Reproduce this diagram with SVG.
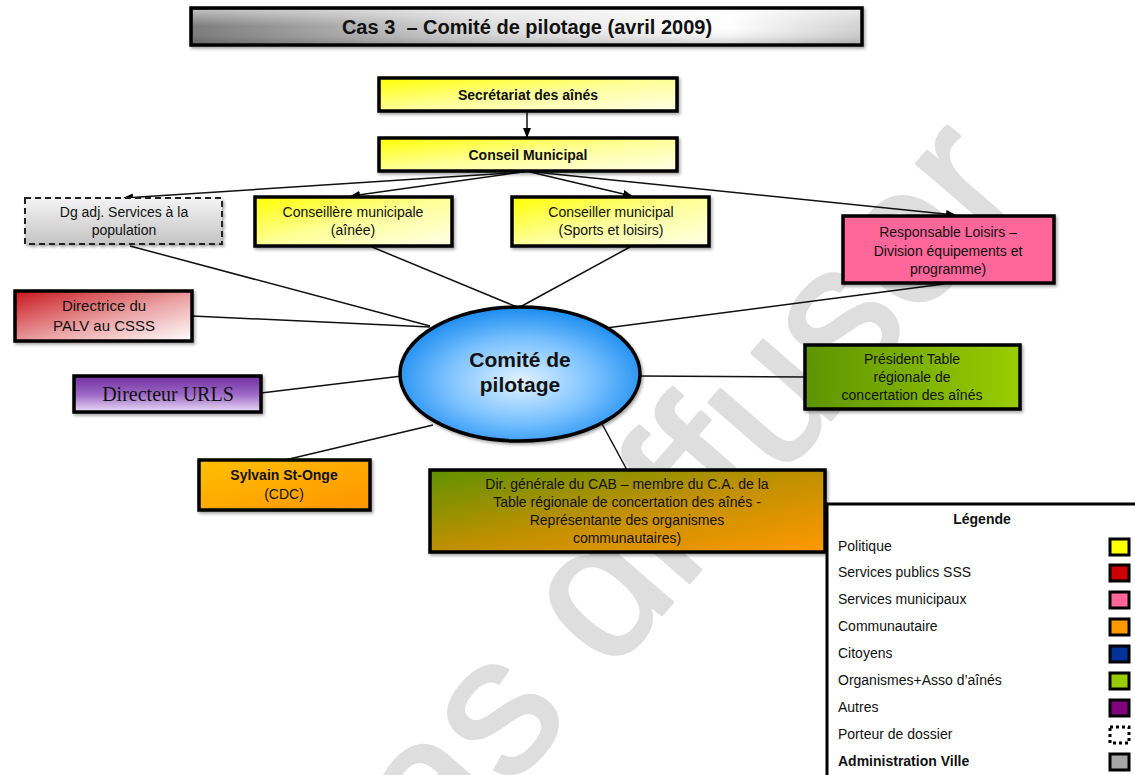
<svg xmlns="http://www.w3.org/2000/svg" width="1135" height="775" viewBox="0 0 1135 775">
<defs>
<linearGradient id="gTitle" x1="0" y1="0" x2="1" y2="0">
<stop offset="0" stop-color="#7a7a7a"/><stop offset="0.45" stop-color="#dcdcdc"/><stop offset="0.8" stop-color="#ffffff"/><stop offset="1" stop-color="#d0d0d0"/>
</linearGradient>
<linearGradient id="gTitleV" x1="0" y1="0" x2="0" y2="1">
<stop offset="0" stop-color="#ffffff" stop-opacity="0.5"/><stop offset="0.5" stop-color="#ffffff" stop-opacity="0"/><stop offset="1" stop-color="#000000" stop-opacity="0.15"/>
</linearGradient>
<linearGradient id="gYellow" x1="0" y1="0" x2="1" y2="1">
<stop offset="0" stop-color="#ffff00"/><stop offset="0.5" stop-color="#ffff99"/><stop offset="1" stop-color="#ffffe8"/>
</linearGradient>
<linearGradient id="gGray" x1="0" y1="0" x2="0" y2="1">
<stop offset="0" stop-color="#f4f4f4"/><stop offset="1" stop-color="#c4c4c4"/>
</linearGradient>
<linearGradient id="gRed" x1="0" y1="0" x2="1" y2="1">
<stop offset="0" stop-color="#c8161d"/><stop offset="0.55" stop-color="#eba3a5"/><stop offset="1" stop-color="#ffffff"/>
</linearGradient>
<linearGradient id="gPurple" x1="0" y1="0" x2="0" y2="1">
<stop offset="0" stop-color="#7030a0"/><stop offset="0.5" stop-color="#9b66c4"/><stop offset="1" stop-color="#eadcf5"/>
</linearGradient>
<linearGradient id="gOrange" x1="0" y1="0" x2="1" y2="1">
<stop offset="0" stop-color="#ffc000"/><stop offset="1" stop-color="#ff9400"/>
</linearGradient>
<linearGradient id="gGreen" x1="0" y1="0" x2="1" y2="0">
<stop offset="0" stop-color="#5e9400"/><stop offset="1" stop-color="#9acd00"/>
</linearGradient>
<linearGradient id="gGreenOrange" x1="0" y1="0" x2="1" y2="1">
<stop offset="0" stop-color="#5f9200"/><stop offset="0.5" stop-color="#c09000"/><stop offset="1" stop-color="#ff9900"/>
</linearGradient>
<radialGradient id="gBlue" cx="0.5" cy="0.55" r="0.55">
<stop offset="0" stop-color="#e2f2ff"/><stop offset="0.55" stop-color="#7cc2ff"/><stop offset="1" stop-color="#1a8cf0"/>
</radialGradient>
<marker id="arr" markerWidth="10" markerHeight="8" refX="9" refY="4" orient="auto" markerUnits="userSpaceOnUse">
<path d="M0,0 L10,4 L0,8 z" fill="#000"/>
</marker>
<filter id="sh" x="-10%" y="-10%" width="120%" height="130%">
<feDropShadow dx="1.5" dy="2" stdDeviation="1.5" flood-color="#000" flood-opacity="0.35"/>
</filter>
</defs>
<style>
.box{stroke:#000;stroke-width:3.5}
.t{font-family:"Liberation Sans",Arial,sans-serif;font-size:14px;fill:#111;text-anchor:middle}
.b{font-weight:bold}
.lg{font-family:"Liberation Sans",Arial,sans-serif;font-size:14px;fill:#111}
.sw{stroke:#000;stroke-width:3}
.ln{stroke:#111;stroke-width:1.5;fill:none}
</style>
<rect width="1135" height="775" fill="#fff"/>
<text x="438" y="872" transform="rotate(-49 438 872)" font-family="'Liberation Sans',Arial,sans-serif" font-size="196" fill="#dedede" stroke="#dedede" stroke-width="3" stroke-linejoin="round">as diffuser</text>

<g id="connectors">
<line class="ln" x1="527" y1="111" x2="527" y2="137" marker-end="url(#arr)"/>
<line class="ln" x1="524" y1="172" x2="124" y2="198" marker-end="url(#arr)"/>
<line class="ln" x1="522" y1="172" x2="351" y2="196" marker-end="url(#arr)"/>
<line class="ln" x1="530" y1="172" x2="632" y2="196" marker-end="url(#arr)"/>
<line class="ln" x1="534" y1="172" x2="955" y2="215" marker-end="url(#arr)"/>
<line class="ln" x1="130" y1="246" x2="430" y2="326"/>
<line class="ln" x1="372" y1="247" x2="517" y2="307"/>
<line class="ln" x1="630" y1="247" x2="520" y2="307"/>
<line class="ln" x1="944" y1="284" x2="606" y2="328"/>
<line class="ln" x1="192" y1="316" x2="430" y2="327"/>
<line class="ln" x1="261" y1="393" x2="402" y2="376"/>
<line class="ln" x1="285" y1="460" x2="433" y2="425"/>
<line class="ln" x1="640" y1="376" x2="805" y2="377"/>
<line class="ln" x1="601" y1="422" x2="627" y2="470"/>
</g>

<g id="title">
<rect x="191" y="8" width="671" height="37" fill="url(#gTitle)" class="box" filter="url(#sh)"/>
<rect x="193" y="10" width="667" height="33" fill="url(#gTitleV)"/>
<text x="527" y="34" class="t b" style="font-size:20px" xml:space="preserve">Cas 3  – Comité de pilotage (avril 2009)</text>
</g>

<g id="secretariat">
<rect x="379" y="78" width="298" height="33" fill="url(#gYellow)" class="box" filter="url(#sh)"/>
<text x="528" y="100" class="t b">Secrétariat des aînés</text>
</g>
<g id="conseil">
<rect x="379" y="138" width="298" height="33" fill="url(#gYellow)" class="box" filter="url(#sh)"/>
<text x="528" y="160" class="t b">Conseil Municipal</text>
</g>
<g id="dgadj">
<rect x="25" y="198" width="197" height="46" fill="url(#gGray)" stroke="#222" stroke-width="2" stroke-dasharray="6,4" filter="url(#sh)"/>
<text x="124" y="217" class="t">Dg adj. Services à la</text>
<text x="124" y="235" class="t">population</text>
</g>
<g id="conseillere">
<rect x="255" y="197" width="197" height="49" fill="url(#gYellow)" class="box" filter="url(#sh)"/>
<text x="353" y="217" class="t">Conseillère municipale</text>
<text x="353" y="235" class="t">(aînée)</text>
</g>
<g id="conseiller">
<rect x="512" y="197" width="197" height="49" fill="url(#gYellow)" class="box" filter="url(#sh)"/>
<text x="611" y="217" class="t">Conseiller municipal</text>
<text x="611" y="235" class="t">(Sports et loisirs)</text>
</g>
<g id="responsable">
<rect x="843" y="216" width="211" height="67" fill="#ff6699" class="box" filter="url(#sh)"/>
<text x="948" y="237" class="t">Responsable Loisirs –</text>
<text x="948" y="256" class="t">Division équipements et</text>
<text x="948" y="274" class="t">programme)</text>
</g>
<g id="directrice">
<rect x="15" y="291" width="177" height="50" fill="url(#gRed)" class="box" filter="url(#sh)"/>
<text x="104" y="311" class="t" style="font-size:15px">Directrice du</text>
<text x="104" y="331" class="t" style="font-size:15px">PALV au CSSS</text>
</g>
<g id="urls">
<rect x="74" y="376" width="187" height="36" fill="url(#gPurple)" class="box" filter="url(#sh)"/>
<text x="168" y="401" class="t" style="font-family:'Liberation Serif','Times New Roman',serif;font-size:20px">Directeur URLS</text>
</g>
<g id="sylvain">
<rect x="199" y="460" width="171" height="50" fill="url(#gOrange)" class="box" filter="url(#sh)"/>
<text x="284" y="480" class="t b">Sylvain St-Onge</text>
<text x="284" y="499" class="t">(CDC)</text>
</g>
<g id="comite">
<ellipse cx="520" cy="374" rx="120" ry="67" fill="url(#gBlue)" stroke="#000" stroke-width="3.5" filter="url(#sh)"/>
<text x="520" y="367" class="t b" style="font-size:21px">Comité de</text>
<text x="520" y="392" class="t b" style="font-size:21px">pilotage</text>
</g>
<g id="president">
<rect x="805" y="345" width="215" height="64" fill="url(#gGreen)" class="box" filter="url(#sh)"/>
<text x="912" y="364" class="t">Président Table</text>
<text x="912" y="382" class="t">régionale de</text>
<text x="912" y="400" class="t">concertation des aînés</text>
</g>
<g id="dirgen">
<rect x="430" y="470" width="395" height="82" fill="url(#gGreenOrange)" class="box" filter="url(#sh)"/>
<text x="627" y="489" class="t">Dir. générale du CAB – membre du C.A. de la</text>
<text x="627" y="507" class="t">Table régionale de concertation des aînés -</text>
<text x="627" y="525" class="t">Représentante des organismes</text>
<text x="627" y="543" class="t">communautaires)</text>
</g>

<g id="legend">
<rect x="827" y="504" width="312" height="275" fill="#fff" stroke="#000" stroke-width="3"/>
<text x="982" y="524" class="t b">Légende</text>
<text x="838" y="551" class="lg">Politique</text>
<text x="838" y="577" class="lg">Services publics SSS</text>
<text x="838" y="604" class="lg">Services municipaux</text>
<text x="838" y="631" class="lg">Communautaire</text>
<text x="838" y="658" class="lg">Citoyens</text>
<text x="838" y="685" class="lg">Organismes+Asso d’aînés</text>
<text x="838" y="712" class="lg">Autres</text>
<text x="838" y="739" class="lg">Porteur de dossier</text>
<text x="838" y="766" class="lg" font-weight="bold">Administration Ville</text>
<rect x="1110" y="539" width="19" height="16" fill="#ffff00" class="sw"/>
<rect x="1110" y="565" width="19" height="16" fill="#cc0000" class="sw"/>
<rect x="1110" y="592" width="19" height="16" fill="#ff6699" class="sw"/>
<rect x="1110" y="619" width="19" height="16" fill="#ff9900" class="sw"/>
<rect x="1110" y="646" width="19" height="16" fill="#003399" class="sw"/>
<rect x="1110" y="673" width="19" height="16" fill="#99cc00" class="sw"/>
<rect x="1110" y="700" width="19" height="16" fill="#800080" class="sw"/>
<rect x="1110" y="727" width="19" height="16" fill="#fff" stroke="#000" stroke-width="3" stroke-dasharray="3,3"/>
<rect x="1110" y="754" width="19" height="16" fill="#a6a6a6" class="sw"/>
</g>
</svg>
